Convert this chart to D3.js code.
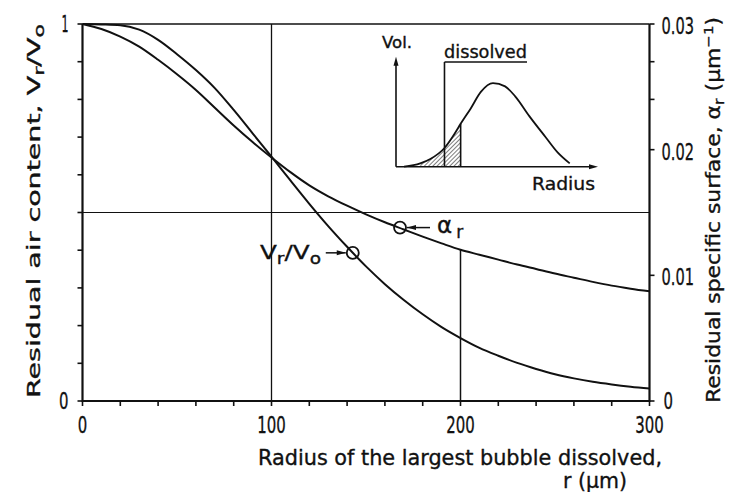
<!DOCTYPE html>
<html>
<head>
<meta charset="utf-8">
<script src="https://cdn.jsdelivr.net/npm/d3@7"></script>
<style>
  html, body { margin: 0; padding: 0; background: #fff; }
  svg text { font-family: "DejaVu Sans", sans-serif; fill: #111; stroke: #111; stroke-width: 0.35; }
</style>
</head>
<body>
<svg id="chart" width="729" height="492"></svg>
<script>
// Radius of the largest bubble dissolved (µm)
const radius = [0, 10, 20, 30, 40, 50, 60, 70, 80, 90, 100, 110, 120, 130, 140, 150,
                160, 170, 180, 190, 200, 210, 220, 230, 240, 250, 260, 270, 280, 290, 300];
// Residual air content V_r / V_0 (left axis)
const volumeRatio = [1.000, 0.999, 0.997, 0.985, 0.958, 0.920, 0.878, 0.830, 0.772, 0.710, 0.648,
                     0.585, 0.523, 0.464, 0.409, 0.357, 0.310, 0.268, 0.230, 0.196, 0.167,
                     0.141, 0.120, 0.101, 0.085, 0.071, 0.060, 0.051, 0.044, 0.038, 0.033];
// Residual specific surface alpha_r in µm^-1 (right axis)
const specificSurface = [0.0300, 0.0296, 0.0290, 0.0282, 0.02715, 0.0260, 0.02475, 0.02334, 0.02193, 0.02061, 0.01938,
                         0.01821, 0.01716, 0.01629, 0.01554, 0.01485, 0.01422, 0.01365, 0.01308, 0.01254, 0.01203,
                         0.01164, 0.01125, 0.01086, 0.01050, 0.01014, 0.00981, 0.00948, 0.00918, 0.00894, 0.00873];

// Marked points on each curve
const volumeMarker = [143, 0.393];
const surfaceMarker = [168, 0.01380];

// Axis ticks
const xMinorTicks = d3.range(0, 301, 20);
const xLabelTicks = [0, 100, 200, 300];
const leftMinorTicks = d3.range(0, 1.0001, 0.1);
const leftLabelTicks = [0, 1];
const rightMinorTicks = [0.027, 0.024];
const rightLabelTicks = [0, 0.01, 0.02, 0.03];
const rightLabelText = ["0", "0.01", "0.02", "0.03"];

// Reference lines
const gridX = [100];
const gridY = [0.5];
const partialGridX = [200];

// Inset: bubble volume distribution (arbitrary units)
const insetRadius = [0.4, 1.2, 1.7, 2.4, 2.9, 3.2, 3.7, 4.2, 4.8, 5.4, 5.9, 6.6, 7.4, 8.0, 8.6];
const insetVolume = [0.0, 0.03, 0.07, 0.17, 0.30, 0.39, 0.53, 0.68, 0.76, 0.73, 0.64, 0.46, 0.27, 0.13, 0.03];
const insetShade = [1.2, 3.2];
const insetCutoff = 2.4;

const svg = d3.select("#chart");

const x = d3.scaleLinear().domain([0, 300]).range([82.5, 649.5]);
const yL = d3.scaleLinear().domain([0, 1]).range([401, 24]);
const yR = d3.scaleLinear().domain([0, 0.03]).range([401, 24]);

const ink = "#111";

// narrow lettering: squeeze text to a given advance width
function fit(sel, w) {
  return sel.attr("textLength", w).attr("lengthAdjust", "spacingAndGlyphs");
}
function digitWidth(s) {
  return s.split("").reduce((a, c) => a + (c === "." ? 4 : c === "1" && s.length === 1 ? 7 : 9.5), 0);
}

// Frame: top line and thin reference lines
svg.append("line").attr("x1", x(0)).attr("x2", x(300)).attr("y1", yL(1)).attr("y2", yL(1))
  .attr("stroke", ink).attr("stroke-width", 1.5);

gridX.forEach(v => svg.append("line").attr("x1", x(v)).attr("x2", x(v))
  .attr("y1", yL(0)).attr("y2", yL(1)).attr("stroke", ink).attr("stroke-width", 1.3));
gridY.forEach(v => svg.append("line").attr("x1", x(0)).attr("x2", x(300))
  .attr("y1", yL(v)).attr("y2", yL(v)).attr("stroke", ink).attr("stroke-width", 1.1));
partialGridX.forEach(v => {
  const i = radius.indexOf(v);
  svg.append("line").attr("x1", x(v)).attr("x2", x(v))
    .attr("y1", yL(0)).attr("y2", yR(specificSurface[i]))
    .attr("stroke", ink).attr("stroke-width", 1.5);
});

// Axes lines
svg.append("line").attr("x1", x(0)).attr("x2", x(0)).attr("y1", yL(0) + 1).attr("y2", yL(1))
  .attr("stroke", ink).attr("stroke-width", 2.2);
svg.append("line").attr("x1", x(300)).attr("x2", x(300)).attr("y1", yL(0) + 1).attr("y2", yL(1))
  .attr("stroke", ink).attr("stroke-width", 2.2);
svg.append("line").attr("x1", x(0)).attr("x2", x(300)).attr("y1", yL(0)).attr("y2", yL(0))
  .attr("stroke", ink).attr("stroke-width", 2.2);

// Ticks
const tickLen = 5;
xMinorTicks.forEach(v => svg.append("line").attr("x1", x(v)).attr("x2", x(v))
  .attr("y1", yL(0)).attr("y2", yL(0) + tickLen).attr("stroke", ink).attr("stroke-width", 1.6));
leftMinorTicks.forEach(v => svg.append("line").attr("x1", x(0) - tickLen).attr("x2", x(0))
  .attr("y1", yL(v)).attr("y2", yL(v)).attr("stroke", ink).attr("stroke-width", 1.6));
rightLabelTicks.concat(rightMinorTicks).forEach(v => svg.append("line").attr("x1", x(300)).attr("x2", x(300) + tickLen)
  .attr("y1", yR(v)).attr("y2", yR(v)).attr("stroke", ink).attr("stroke-width", 1.6));

// Tick labels
const tickFont = 23;
xLabelTicks.forEach(v => fit(svg.append("text").attr("x", x(v)).attr("y", yL(0) + 32)
  .attr("text-anchor", "middle").attr("font-size", tickFont).text(v), digitWidth(String(v))));
leftLabelTicks.forEach(v => fit(svg.append("text").attr("x", x(0) - 14).attr("y", yL(v) + 8)
  .attr("text-anchor", "end").attr("font-size", tickFont).text(v), digitWidth(String(v))));
rightLabelTicks.forEach((v, i) => fit(svg.append("text")
  .attr("x", x(300) + (v === 0 ? 14 : 12)).attr("y", yR(v) + (v === 0 ? 8 : 10))
  .attr("text-anchor", "start").attr("font-size", tickFont).text(rightLabelText[i]), digitWidth(rightLabelText[i])));

// Curves
const lineLeft = d3.line().x((d, i) => x(radius[i])).y(d => yL(d)).curve(d3.curveMonotoneX);
const lineRight = d3.line().x((d, i) => x(radius[i])).y(d => yR(d)).curve(d3.curveMonotoneX);

svg.append("path").attr("d", lineLeft(volumeRatio))
  .attr("fill", "none").attr("stroke", ink).attr("stroke-width", 2);
svg.append("path").attr("d", lineRight(specificSurface))
  .attr("fill", "none").attr("stroke", ink).attr("stroke-width", 2);

// Markers with labels and arrows
const cr = 6;
const vmx = x(volumeMarker[0]), vmy = yL(volumeMarker[1]);
const smx = x(surfaceMarker[0]), smy = yR(surfaceMarker[1]);
svg.append("circle").attr("cx", vmx).attr("cy", vmy).attr("r", cr)
  .attr("fill", "none").attr("stroke", ink).attr("stroke-width", 1.8);
svg.append("circle").attr("cx", smx).attr("cy", smy).attr("r", cr)
  .attr("fill", "none").attr("stroke", ink).attr("stroke-width", 1.8);

function arrow(x1, x2, y) {
  svg.append("line").attr("x1", x1).attr("x2", x2).attr("y1", y).attr("y2", y)
    .attr("stroke", ink).attr("stroke-width", 1.5);
  const dir = Math.sign(x2 - x1);
  svg.append("path")
    .attr("d", `M${x2},${y} L${x2 - dir * 9},${y - 2.5} L${x2 - dir * 9},${y + 2.5} Z`)
    .attr("fill", ink);
}
arrow(vmx - 27, vmx - cr - 1, vmy);
arrow(smx + 30, smx + cr + 1, smy);

const vLabel = svg.append("text").attr("x", 260).attr("y", vmy + 6).attr("font-size", 20);
vLabel.append("tspan").text("V");
vLabel.append("tspan").attr("dy", 5).attr("font-size", 15).text("r");
vLabel.append("tspan").attr("dy", -5).text("/V");
vLabel.append("tspan").attr("dy", 5).attr("font-size", 15).text("o");
fit(vLabel, 61);

const aLabel = svg.append("text").attr("x", smx + 37).attr("y", smy + 5)
  .attr("text-anchor", "start").attr("font-size", 23);
aLabel.append("tspan").text("α");
aLabel.append("tspan").attr("dx", 4).attr("dy", 5).attr("font-size", 17).text("r");

// Axis titles
const leftTitle = svg.append("text")
  .attr("transform", `translate(40,398) rotate(-90)`)
  .attr("font-size", 18);
leftTitle.append("tspan").text("Residual air content, V");
leftTitle.append("tspan").attr("dy", 4).attr("font-size", 14).text("r");
leftTitle.append("tspan").attr("dy", -4).text("/V");
leftTitle.append("tspan").attr("dy", 4).attr("font-size", 14).text("o");
fit(leftTitle, 374);

const rightTitle = svg.append("text")
  .attr("transform", `translate(720,403) rotate(-90)`)
  .attr("font-size", 19);
rightTitle.append("tspan").text("Residual specific surface, α");
rightTitle.append("tspan").attr("dy", 4).attr("font-size", 14).text("r");
rightTitle.append("tspan").attr("dy", -4).text(" (μm");
rightTitle.append("tspan").attr("dy", -7).attr("font-size", 13).text("−1");
rightTitle.append("tspan").attr("dy", 7).text(")");
fit(rightTitle, 386);

fit(svg.append("text").attr("x", 258).attr("y", 465).attr("font-size", 21)
  .text("Radius of the  largest bubble dissolved,"), 404);
fit(svg.append("text").attr("x", 563).attr("y", 488).attr("font-size", 21)
  .text("r (μm)"), 64);

// Inset: volume distribution sketch
const ix = d3.scaleLinear().domain([0, 10]).range([396, 598]);
const iy = d3.scaleLinear().domain([0, 1]).range([166.7, 56.7]);
const inset = svg.append("g");

const defs = svg.append("defs");
defs.append("pattern").attr("id", "hatch").attr("patternUnits", "userSpaceOnUse")
  .attr("width", 3).attr("height", 3).attr("patternTransform", "rotate(45)")
  .append("line").attr("x1", 0).attr("x2", 0).attr("y1", 0).attr("y2", 3)
  .attr("stroke", ink).attr("stroke-width", 1.1);

const shadePts = insetRadius.map((r, i) => [r, insetVolume[i]])
  .filter(d => d[0] >= insetShade[0] && d[0] <= insetShade[1]);
const insetArea = d3.area().x(d => ix(d[0])).y0(iy(0)).y1(d => iy(d[1])).curve(d3.curveMonotoneX);
inset.append("path").attr("d", insetArea(shadePts)).attr("fill", "url(#hatch)");
inset.append("line").attr("x1", ix(insetShade[1])).attr("x2", ix(insetShade[1]))
  .attr("y1", iy(0)).attr("y2", iy(shadePts[shadePts.length - 1][1]))
  .attr("stroke", ink).attr("stroke-width", 1.6);

const insetLine = d3.line().x(d => ix(d[0])).y(d => iy(d[1])).curve(d3.curveMonotoneX);
inset.append("path").attr("d", insetLine(insetRadius.map((r, i) => [r, insetVolume[i]])))
  .attr("fill", "none").attr("stroke", ink).attr("stroke-width", 1.8);

// inset axes with arrowheads
inset.append("line").attr("x1", ix(0)).attr("x2", ix(0)).attr("y1", iy(0)).attr("y2", iy(1) + 6)
  .attr("stroke", ink).attr("stroke-width", 1.6);
inset.append("path").attr("d", `M${ix(0)},${iy(1)} L${ix(0) - 2.5},${iy(1) + 9} L${ix(0) + 2.5},${iy(1) + 9} Z`).attr("fill", ink);
inset.append("line").attr("x1", ix(0)).attr("x2", ix(10) - 6).attr("y1", iy(0)).attr("y2", iy(0))
  .attr("stroke", ink).attr("stroke-width", 1.6);
inset.append("path").attr("d", `M${ix(10)},${iy(0)} L${ix(10) - 9},${iy(0) - 2.5} L${ix(10) - 9},${iy(0) + 2.5} Z`).attr("fill", ink);

// dissolved marker
inset.append("line").attr("x1", ix(insetCutoff)).attr("x2", ix(insetCutoff))
  .attr("y1", iy(0)).attr("y2", 62).attr("stroke", ink).attr("stroke-width", 1.6);
inset.append("line").attr("x1", ix(insetCutoff)).attr("x2", 527)
  .attr("y1", 62).attr("y2", 62).attr("stroke", ink).attr("stroke-width", 1.6);
fit(inset.append("text").attr("x", 444).attr("y", 58).attr("font-size", 18).text("dissolved"), 83);
fit(inset.append("text").attr("x", 382).attr("y", 48).attr("font-size", 15).text("Vol."), 30);
fit(inset.append("text").attr("x", 532).attr("y", 190).attr("font-size", 18).text("Radius"), 63);
</script>
</body>
</html>
